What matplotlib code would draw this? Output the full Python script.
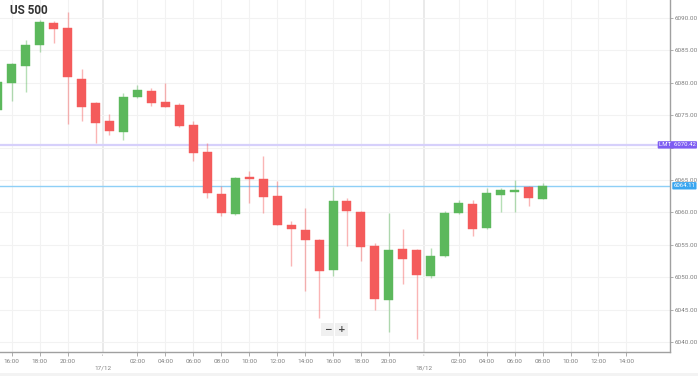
import matplotlib
matplotlib.use("Agg")
import matplotlib.pyplot as plt
from matplotlib.patches import Rectangle

# ---- data (hourly candles, index positions with session break removed) ----
idx = list(range(-1, 39))
opens = [6075.80, 6079.97, 6082.64, 6085.83, 6089.27, 6088.50, 6080.54, 6076.84, 6074.10, 6072.45,
         6077.76, 6078.78, 6077.08, 6076.53, 6073.49, 6069.37, 6062.79, 6059.75, 6065.42, 6065.11,
         6062.53, 6058.06, 6057.33, 6055.69, 6051.16, 6061.76, 6060.06, 6054.81, 6046.53, 6054.35,
         6054.15, 6050.23, 6053.23, 6059.95, 6061.30, 6057.59, 6062.73, 6063.19, 6063.92, 6062.11]
closes = [6080.17, 6082.90, 6085.79, 6089.34, 6088.30, 6080.85, 6076.31, 6073.84, 6072.61, 6077.85,
          6078.89, 6076.84, 6076.31, 6073.33, 6069.24, 6062.95, 6059.91, 6065.35, 6065.11, 6062.38,
          6058.10, 6057.39, 6055.79, 6051.00, 6061.71, 6060.17, 6054.61, 6046.59, 6054.15, 6052.85,
          6050.29, 6053.23, 6059.91, 6061.45, 6057.48, 6062.95, 6063.41, 6063.46, 6062.22, 6064.03]
highs = [6080.50, 6083.00, 6086.60, 6089.69, 6089.54, 6090.88, 6082.13, 6077.00, 6075.14, 6078.38,
         6079.66, 6079.15, 6080.02, 6076.88, 6074.15, 6070.66, 6064.15, 6065.46, 6066.39, 6068.70,
         6064.89, 6058.67, 6060.68, 6055.94, 6063.87, 6062.18, 6060.20, 6055.23, 6059.95, 6057.39,
         6054.30, 6054.46, 6060.22, 6061.91, 6061.91, 6063.72, 6063.72, 6065.00, 6064.00, 6064.49]
lows = [6075.00, 6077.19, 6078.63, 6084.80, 6086.19, 6073.69, 6074.15, 6070.76, 6071.94, 6071.17,
        6077.60, 6076.42, 6076.20, 6073.18, 6067.93, 6062.27, 6059.44, 6059.60, 6061.50, 6059.86,
        6058.00, 6051.73, 6047.92, 6043.75, 6050.23, 6054.81, 6052.50, 6044.94, 6041.50, 6048.90,
        6040.51, 6049.83, 6053.10, 6059.80, 6056.40, 6057.50, 6060.11, 6060.11, 6060.99, 6062.00]

tick_pos = [0, 2, 4, 9, 11, 13, 15, 17, 19, 21, 23, 25, 27, 32, 34, 36, 38, 40, 42, 44]
tick_labels = ["16:00", "18:00", "20:00", "02:00", "04:00", "06:00", "08:00", "10:00", "12:00",
               "14:00", "16:00", "18:00", "20:00", "02:00", "04:00", "06:00", "08:00", "10:00",
               "12:00", "14:00"]
date_pos = [6.5, 29.5]
date_labels = ["17/12", "18/12"]
y_ticks = [6040, 6045, 6050, 6055, 6060, 6065, 6070, 6075, 6080, 6085, 6090]
lmt_price = 6070.42
last_price = 6064.11
title = "US 500"

GREEN = "#5cb85c"
RED = "#f45b5b"
FONT = "Roboto"

fig = plt.figure(figsize=(6.98, 3.76), dpi=100)
W, H = 698, 376
ax = fig.add_axes([0 / W, 1 - 352 / H, 670 / W, 352 / H])
ax.set_xlim(-0.837, 47.12)
ax.set_ylim(6038.46, 6092.78)

# light bottom band
fig.patches.append(Rectangle((0, 0), 1, 3 / H, transform=fig.transFigure,
                             facecolor="#f3f3f3", edgecolor="none"))

# grid
for t in tick_pos:
    ax.axvline(t, color="#f2f2f2", lw=0.8, zorder=0)
for d in date_pos:
    ax.axvline(d, color="#e6e6e6", lw=1.2, zorder=0)
for y in y_ticks:
    ax.axhline(y, color="#f2f2f2", lw=0.8, zorder=0)

# candles
bw = 0.645
for i, o, c, h, l in zip(idx, opens, closes, highs, lows):
    col = GREEN if c >= o else RED
    ax.vlines(i, l, h, color=col, alpha=0.45, lw=1.0, zorder=2)
    lo, hi = min(o, c), max(o, c)
    ax.add_patch(Rectangle((i - bw / 2, lo), bw, max(hi - lo, 0.12), facecolor=col,
                           edgecolor=col, lw=0.3, zorder=3))

# price lines
ax.axhline(lmt_price, color="#d6d0fb", lw=1.6, zorder=1)
ax.axhline(last_price, color="#8ecff6", lw=1.0, zorder=1)

# spines / ticks
for s in ["top", "left"]:
    ax.spines[s].set_visible(False)
ax.spines["right"].set_color("#a0a0a0")
ax.spines["bottom"].set_color("#a0a0a0")
ax.spines["right"].set_linewidth(1.0)
ax.spines["bottom"].set_linewidth(1.0)
ax.yaxis.tick_right()
ax.set_yticks(y_ticks)
# the 6070.00 label sits hidden under the LMT tag in the original
ax.set_yticklabels([("" if v == 6070 else f"{v:.2f}") for v in y_ticks], fontsize=4.6,
                   color="#808080", family=FONT)
ax.tick_params(axis="y", length=2, width=0.6, color="#a0a0a0", pad=1)
ax.set_xticks(tick_pos)
ax.set_xticklabels(tick_labels, fontsize=4.6, color="#808080", family=FONT)
ax.tick_params(axis="x", length=3, width=0.6, color="#a0a0a0", pad=2)

for d, lab in zip(date_pos, date_labels):
    ax.annotate(lab, xy=(d, 0), xycoords=("data", "axes fraction"), xytext=(0, -11.5),
                textcoords="offset points", ha="center", va="center", fontsize=4.6,
                color="#808080", family=FONT, annotation_clip=False)
    ax.annotate("", xy=(d, 0), xycoords=("data", "axes fraction"), xytext=(0, -4.5),
                textcoords="offset points",
                arrowprops=dict(arrowstyle="-", color="#b0b0b0", lw=0.6, linestyle=":"),
                annotation_clip=False)

# price tags
ax.annotate(f"LMT  {lmt_price:.2f}", xy=(1.0, lmt_price), xycoords=("axes fraction", "data"),
            xytext=(-8, 0), textcoords="offset points", ha="left", va="center", fontsize=4.3,
            color="white", family=FONT, annotation_clip=False, zorder=10,
            bbox=dict(boxstyle="round,pad=0.2,rounding_size=0.15", fc="#7d5cf2", ec="none"))
ax.annotate(f"{last_price:.2f}", xy=(1.0, last_price), xycoords=("axes fraction", "data"),
            xytext=(2.5, 0), textcoords="offset points", ha="left", va="center", fontsize=4.3,
            color="white", family=FONT, annotation_clip=False, zorder=10,
            bbox=dict(boxstyle="round,pad=0.2,rounding_size=0.15", fc="#3aa6f0", ec="none"))

# title
fig.text(10 / W, 1 - 11 / H, title, fontsize=8.5, fontweight="bold", color="#333333",
         family=FONT, ha="left", va="center")

# zoom buttons
for xx, s in [(327.5, "\u2212"), (341.5, "+")]:
    fig.text(xx / W, 1 - 329.5 / H, s, fontsize=6.5, fontweight="bold", color="#444444",
             family="DejaVu Sans", ha="center", va="center",
             bbox=dict(boxstyle="square,pad=0.25", fc="#f0f0f0", ec="none"))

fig.savefig("out.png", dpi=100)
